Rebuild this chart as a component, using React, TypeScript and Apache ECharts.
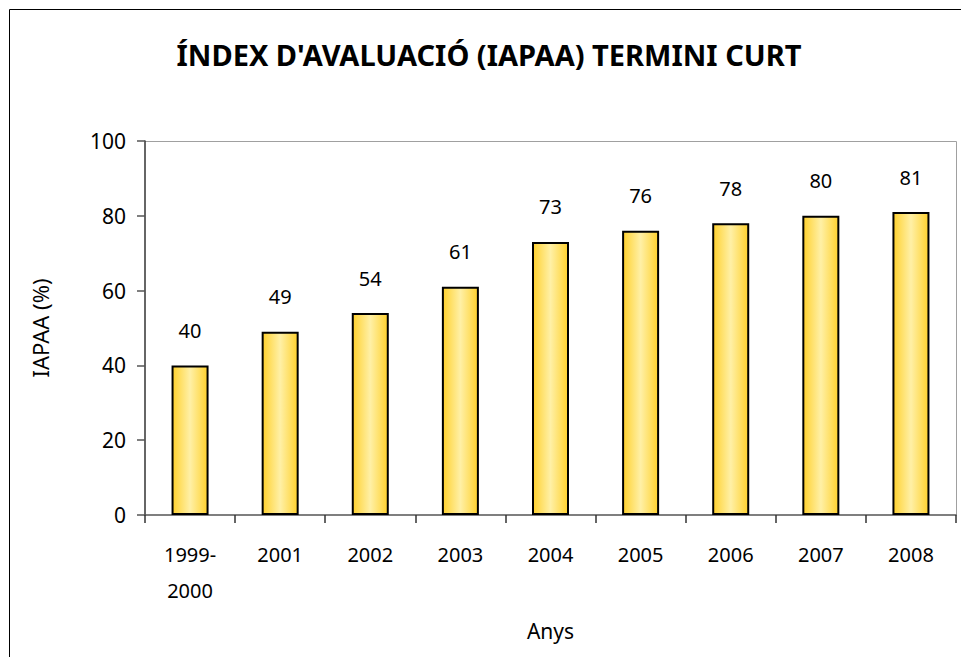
import React, { useEffect, useRef } from "react";
import * as echarts from "echarts";

const categories = ["1999-\n2000", "2001", "2002", "2003", "2004", "2005", "2006", "2007", "2008"];
const values = [40, 49, 54, 61, 73, 76, 78, 80, 81];
const yTicks = { min: 0, max: 100, interval: 20 };
const titleText = "ÍNDEX D'AVALUACIÓ (IAPAA) TERMINI CURT";
const xName = "Anys";
const yName = "IAPAA (%)";

const FONT = "'Noto Sans', sans-serif";

export default function App() {
  const ref = useRef<HTMLDivElement>(null);
  useEffect(() => {
    if (!ref.current) return;
    const chart = echarts.init(ref.current, undefined, { renderer: "svg" });
    const gridLeft = 145;
    const gridTop = 141;
    const gridRight = 5;
    const gridBottom = 142;
    chart.setOption({
      animation: false,
      backgroundColor: "#ffffff",
      title: {
        text: titleText,
        left: 484,
        top: 35,
        textAlign: "center",
        textStyle: { fontFamily: FONT, fontSize: 29, fontWeight: "bold", color: "#000" },
      },
      grid: {
        left: gridLeft,
        top: gridTop,
        right: gridRight,
        bottom: gridBottom,
        show: false,
      },
      graphic: [
        {
          type: "rect",
          shape: { x: 9.5, y: 9.5, width: 1200, height: 1200 },
          style: { fill: "none", stroke: "#000", lineWidth: 1 },
          silent: true,
          z: -10,
        },
        {
          type: "polyline",
          shape: {
            points: [
              [gridLeft, gridTop + 0.5],
              [961 - gridRight + 0.5, gridTop + 0.5],
              [961 - gridRight + 0.5, 657 - gridBottom],
            ],
          },
          style: { fill: "none", stroke: "#a0a0a0", lineWidth: 1 },
          silent: true,
          z: 0,
        },
      ],
      xAxis: {
        type: "category",
        data: categories,
        name: xName,
        nameLocation: "middle",
        nameGap: 105,
        nameTextStyle: { fontFamily: FONT, fontSize: 21, color: "#000" },
        axisLine: { show: true, lineStyle: { color: "#555", width: 1.5 } },
        axisTick: { show: true, alignWithLabel: false, length: 8, lineStyle: { color: "#333", width: 1.5 } },
        axisLabel: {
          fontFamily: FONT,
          fontSize: 20,
          color: "#000",
          margin: 21,
          lineHeight: 36,
          interval: 0,
        },
        splitLine: { show: false },
      },
      yAxis: {
        type: "value",
        min: yTicks.min,
        max: yTicks.max,
        interval: yTicks.interval,
        name: yName,
        nameLocation: "middle",
        nameGap: 94,
        nameRotate: 90,
        nameTextStyle: { fontFamily: FONT, fontSize: 22, color: "#000" },
        axisLine: { show: true, lineStyle: { color: "#333", width: 1.5 } },
        axisTick: { show: true, length: 8, lineStyle: { color: "#555", width: 1.5 } },
        axisLabel: { fontFamily: FONT, fontSize: 21, color: "#000", margin: 19 },
        splitLine: { show: false },
      },
      series: [
        {
          type: "bar",
          data: values,
          barWidth: 37,
          itemStyle: {
            color: new echarts.graphic.LinearGradient(0, 0, 1, 0, [
              { offset: 0, color: "#FFD12E" },
              { offset: 0.5, color: "#FFF0A6" },
              { offset: 1, color: "#FFD12E" },
            ]),
            borderColor: "#000",
            borderWidth: 2,
          },
          label: {
            show: true,
            position: "top",
            distance: 25,
            fontFamily: FONT,
            fontSize: 20,
            color: "#000",
          },
        },
      ],
    });
    return () => chart.dispose();
  }, []);
  return (
    <div
      ref={ref}
      style={{ position: "fixed", left: 0, top: 0, width: 961, height: 657, background: "#fff" }}
    />
  );
}
